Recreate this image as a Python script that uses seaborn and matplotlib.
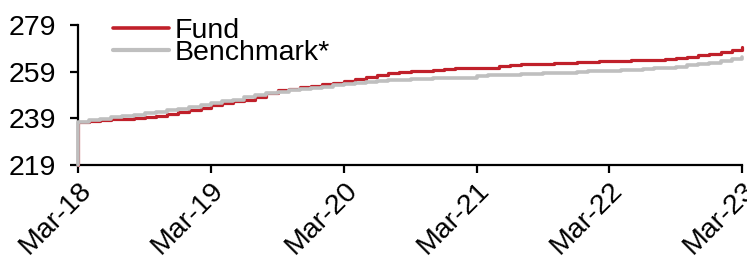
import matplotlib
matplotlib.use("Agg")
import matplotlib.pyplot as plt
import matplotlib.transforms as mtransforms
from matplotlib.lines import Line2D
import seaborn as sns
import pandas as pd

sns.set_theme(style="white")
plt.rcParams['font.family'] = ['Liberation Sans', 'DejaVu Sans']
plt.rcParams['text.color'] = 'black'
plt.rcParams['xtick.color'] = 'black'
plt.rcParams['ytick.color'] = 'black'

start_value = 219.0
fund = [237.4, 237.8, 238.2, 238.6, 238.8, 239.0, 239.4, 240.0, 240.8, 241.6,
        242.6, 243.5, 244.6, 245.5, 246.3, 247.0, 248.2, 250.0, 251.0, 251.8,
        252.4, 253.0, 253.6, 254.2, 255.0, 255.7, 256.7, 257.5, 258.4, 258.9,
        259.3, 259.5, 259.8, 260.2, 260.4, 260.4, 260.5, 260.8, 261.4, 262.0,
        262.2, 262.3, 262.4, 262.6, 262.8, 263.0, 263.2, 263.4, 263.6, 263.8,
        263.9, 264.0, 264.2, 264.6, 264.8, 265.2, 266.0, 266.8, 267.4, 268.4,
        269.5]
benchmark = [237.4, 238.4, 238.8, 239.6, 240.2, 240.4, 241.2, 241.6, 242.4, 243.0,
             244.0, 244.8, 245.6, 246.3, 247.0, 248.0, 249.2, 250.0, 250.4, 251.0,
             251.5, 252.0, 252.6, 253.2, 253.7, 254.0, 254.4, 254.9, 255.4, 255.6,
             255.8, 256.0, 256.1, 256.2, 256.3, 256.5, 257.0, 257.5, 257.7, 257.8,
             258.0, 258.2, 258.3, 258.4, 258.5, 258.8, 259.2, 259.4, 259.5, 259.6,
             259.8, 260.2, 260.5, 260.8, 261.2, 261.8, 262.2, 262.8, 263.4, 264.4,
             265.5]
yticks = [219, 239, 259, 279]
xtick_labels = ["Mar-18", "Mar-19", "Mar-20", "Mar-21", "Mar-22", "Mar-23"]

FS = 20.5
RED = "#C0202A"
GREY = "#BFBFBF"

dates = pd.date_range("2018-03-01", periods=len(fund), freq="MS")
all_dates = [dates[0]] + list(dates)

df = pd.concat([
    pd.DataFrame({"date": all_dates, "value": [start_value] + fund, "series": "Fund"}),
    pd.DataFrame({"date": all_dates, "value": [start_value] + benchmark, "series": "Benchmark*"}),
])

fig = plt.figure(figsize=(7.47, 2.56), dpi=100)
ax = fig.add_axes([0.1044, 0.3555, 0.8889, 0.5465])

palette = {"Fund": RED, "Benchmark*": GREY}
sns.lineplot(data=df, x="date", y="value", hue="series", palette=palette,
             hue_order=["Fund", "Benchmark*"], drawstyle="steps-post",
             ax=ax, sort=False, estimator=None, legend=False)
lines = ax.get_lines()
lines[0].set_linewidth(2.3)
lines[1].set_linewidth(2.6)
for ln in lines:
    ln.set_zorder(3)
    ln.set_clip_on(False)

ax.set_xlim(pd.Timestamp("2018-03-01"), pd.Timestamp("2023-03-01"))
ax.set_ylim(219, 279)
ax.set_yticks(yticks)
ax.set_yticklabels([str(v) for v in yticks], fontsize=FS, color="black")
xt = pd.date_range("2018-03-01", periods=6, freq="12MS")
ax.set_xticks(xt)
ax.set_xticklabels(xtick_labels, fontsize=FS, rotation=45, ha="right",
                   va="top", rotation_mode="anchor", color="black")
offset = mtransforms.ScaledTranslation(-9 / 100, -6 / 100, fig.dpi_scale_trans)
for lab in ax.get_xticklabels():
    lab.set_transform(lab.get_transform() + offset)
ax.set_xlabel("")
ax.set_ylabel("")

for s in ["top", "right"]:
    ax.spines[s].set_visible(False)
for s in ["left", "bottom"]:
    ax.spines[s].set_color("black")
    ax.spines[s].set_linewidth(1.6)
ax.tick_params(axis="both", which="both", direction="out", length=5.8, width=1.6,
               color="black", left=True, bottom=True, pad=3)
ax.tick_params(axis="y", pad=10)

handles = [Line2D([], [], color=RED, lw=2.6),
           Line2D([], [], color=GREY, lw=3.0)]
leg = fig.legend(handles, ["Fund", "Benchmark*"], loc="upper left",
                 bbox_to_anchor=(113 / 747, 1 - 18 / 256), frameon=False, fontsize=FS,
                 handlelength=1.95, handletextpad=0.2, labelspacing=-0.13,
                 borderaxespad=0, borderpad=0)
for t in leg.get_texts():
    t.set_color("black")

fig.savefig("out.png", dpi=100)
